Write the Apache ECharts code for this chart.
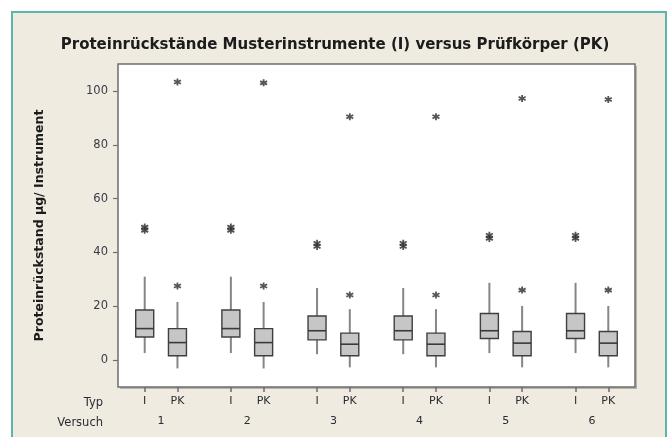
<!DOCTYPE html>
<html><head><meta charset="utf-8">
<script src="https://cdn.jsdelivr.net/npm/echarts@6/dist/echarts.min.js"></script>
<style>html,body{margin:0;padding:0;background:#fff}#c{width:670px;height:437px}</style>
</head><body><div id="c"></div>
<script>
var versuch = ['1','2','3','4','5','6'];
var typLabels = ['I','PK'];
var yTicks = [0,20,40,60,80,100];
var iLow  = [2.6,2.6,2.2,2.2,2.6,2.6];
var iQ1   = [8.6,8.6,7.5,7.5,8.0,8.0];
var iMed  = [11.7,11.7,10.9,10.9,10.9,10.9];
var iQ3   = [18.6,18.6,16.4,16.4,17.3,17.3];
var iHigh = [31.0,31.0,26.8,26.8,28.7,28.7];
var pkLow  = [-3.1,-3.1,-2.7,-2.7,-2.7,-2.7];
var pkQ1   = [1.6,1.6,1.6,1.6,1.6,1.6];
var pkMed  = [6.5,6.5,5.9,5.9,6.3,6.3];
var pkQ3   = [11.7,11.7,10.0,10.0,10.6,10.6];
var pkHigh = [21.6,21.6,18.9,18.9,20.1,20.1];
var iOutliers  = [[48.2,49.4],[48.2,49.4],[42.2,43.4],[42.2,43.4],[45.2,46.4],[45.2,46.4]];
var pkOutliers = [[27.5,103.3],[27.5,103.0],[24.2,90.4],[24.2,90.4],[26.0,97.2],[26.0,96.8]];

var OFF = 0.19;
var boxData = [], outData = [], typPos = [], typName = {};
versuch.forEach(function(v, k){
  var g = k + 1;
  var xi = +(g - OFF).toFixed(2), xp = +(g + OFF).toFixed(2);
  typPos.push(xi, xp);
  typName[xi] = typLabels[0]; typName[xp] = typLabels[1];
  boxData.push([xi, iLow[k], iQ1[k], iMed[k], iQ3[k], iHigh[k]]);
  boxData.push([xp, pkLow[k], pkQ1[k], pkMed[k], pkQ3[k], pkHigh[k]]);
  iOutliers[k].forEach(function(o){ outData.push([xi, o]); });
  pkOutliers[k].forEach(function(o){ outData.push([xp, o]); });
});
var groupPos = versuch.map(function(v,k){return k+1;});

var font = 'DejaVu Sans';
var chart = echarts.init(document.getElementById('c'), null, {renderer:'canvas'});
chart.setOption({
  animation: false,
  backgroundColor: '#ffffff',
  title: {
    text: 'Proteinrückstände Musterinstrumente (I) versus Prüfkörper (PK)',
    left: 'center', top: 33,
    textStyle: {fontFamily: font, fontSize: 15, fontWeight: 'bold', color: '#1c1c1c'}
  },
  graphic: [
    {type:'rect', z:-10, silent:true, shape:{x:12, y:12, width:654, height:432},
     style:{fill:'#efebe1', stroke:'#5cb5ad', lineWidth:2}},
    {type:'rect', z:-9, silent:true, shape:{x:120, y:66, width:517, height:323},
     style:{fill:'#b9b5ac'}},
    {type:'text', x:103, y:403, z:10,
     style:{text:'Typ', align:'right', verticalAlign:'middle', fill:'#2b2b33', font:'11.5px "DejaVu Sans"'}},
    {type:'text', x:103, y:423, z:10,
     style:{text:'Versuch', align:'right', verticalAlign:'middle', fill:'#2b2b33', font:'11.5px "DejaVu Sans"'}}
  ],
  grid: {left:118, right:35, top:64, bottom:50, show:true, backgroundColor:'#ffffff', borderColor:'#6e6e6e', borderWidth:1.5},
  xAxis: [{
    type:'value', min:0.5, max:6.5, position:'bottom',
    axisLine:{show:false, onZero:false}, splitLine:{show:false},
    axisTick:{show:true, length:5, customValues: typPos, lineStyle:{color:'#6e6e6e', width:1.5}},
    axisLabel:{customValues: typPos, margin:9, fontFamily:font, fontSize:11, color:'#2b2b33',
      formatter:function(v){ return typName[+v.toFixed(2)] || ''; }}
  },{
    type:'value', min:0.5, max:6.5, position:'bottom', offset:20,
    axisLine:{show:false, onZero:false}, splitLine:{show:false}, axisTick:{show:false},
    axisLabel:{customValues: groupPos, margin:9, fontFamily:font, fontSize:11, color:'#2b2b33',
      formatter:function(v){ return versuch[Math.round(v)-1] || ''; }}
  }],
  yAxis: {
    type:'value', min:-10, max:110,
    name:'Proteinrückstand µg/ Instrument', nameLocation:'middle', nameGap:72, nameRotate:90,
    nameTextStyle:{fontFamily:font, fontSize:12.5, fontWeight:'bold', color:'#1c1c1c'},
    axisLine:{show:false, onZero:false}, splitLine:{show:false},
    axisTick:{show:true, length:5, customValues:yTicks, lineStyle:{color:'#6e6e6e', width:1.2}},
    axisLabel:{customValues:yTicks, margin:10, fontFamily:font, fontSize:11.5, color:'#3a3a48'}
  },
  series: [{
    type:'custom', data: boxData, encode:{x:0, y:[1,2,3,4,5]},
    renderItem: function(params, api){
      var x = api.value(0);
      var pLow = api.coord([x, api.value(1)]);
      var pQ1 = api.coord([x, api.value(2)]);
      var pMed = api.coord([x, api.value(3)]);
      var pQ3 = api.coord([x, api.value(4)]);
      var pHigh = api.coord([x, api.value(5)]);
      var cx = pLow[0], hw = 9;
      return {type:'group', children:[
        {type:'line', shape:{x1:cx, y1:pHigh[1], x2:cx, y2:pQ3[1]}, style:{stroke:'#868686', lineWidth:2}},
        {type:'line', shape:{x1:cx, y1:pQ1[1], x2:cx, y2:pLow[1]}, style:{stroke:'#868686', lineWidth:2}},
        {type:'rect', shape:{x:cx-hw, y:pQ3[1], width:2*hw, height:pQ1[1]-pQ3[1]}, style:{fill:'#c6c6c6', stroke:'#3f3f3f', lineWidth:1.4}},
        {type:'line', shape:{x1:cx-hw, y1:pMed[1], x2:cx+hw, y2:pMed[1]}, style:{stroke:'#3a3a3a', lineWidth:1.6}}
      ]};
    }
  },{
    type:'scatter', data: outData, symbolSize:7,
    symbol:'path://M0,-5L0,5M-4.33,-2.5L4.33,2.5M-4.33,2.5L4.33,-2.5',
    itemStyle:{color:'rgba(0,0,0,0)', borderColor:'#2a2a2a', borderWidth:1.8}
  }]
});
</script></body></html>
